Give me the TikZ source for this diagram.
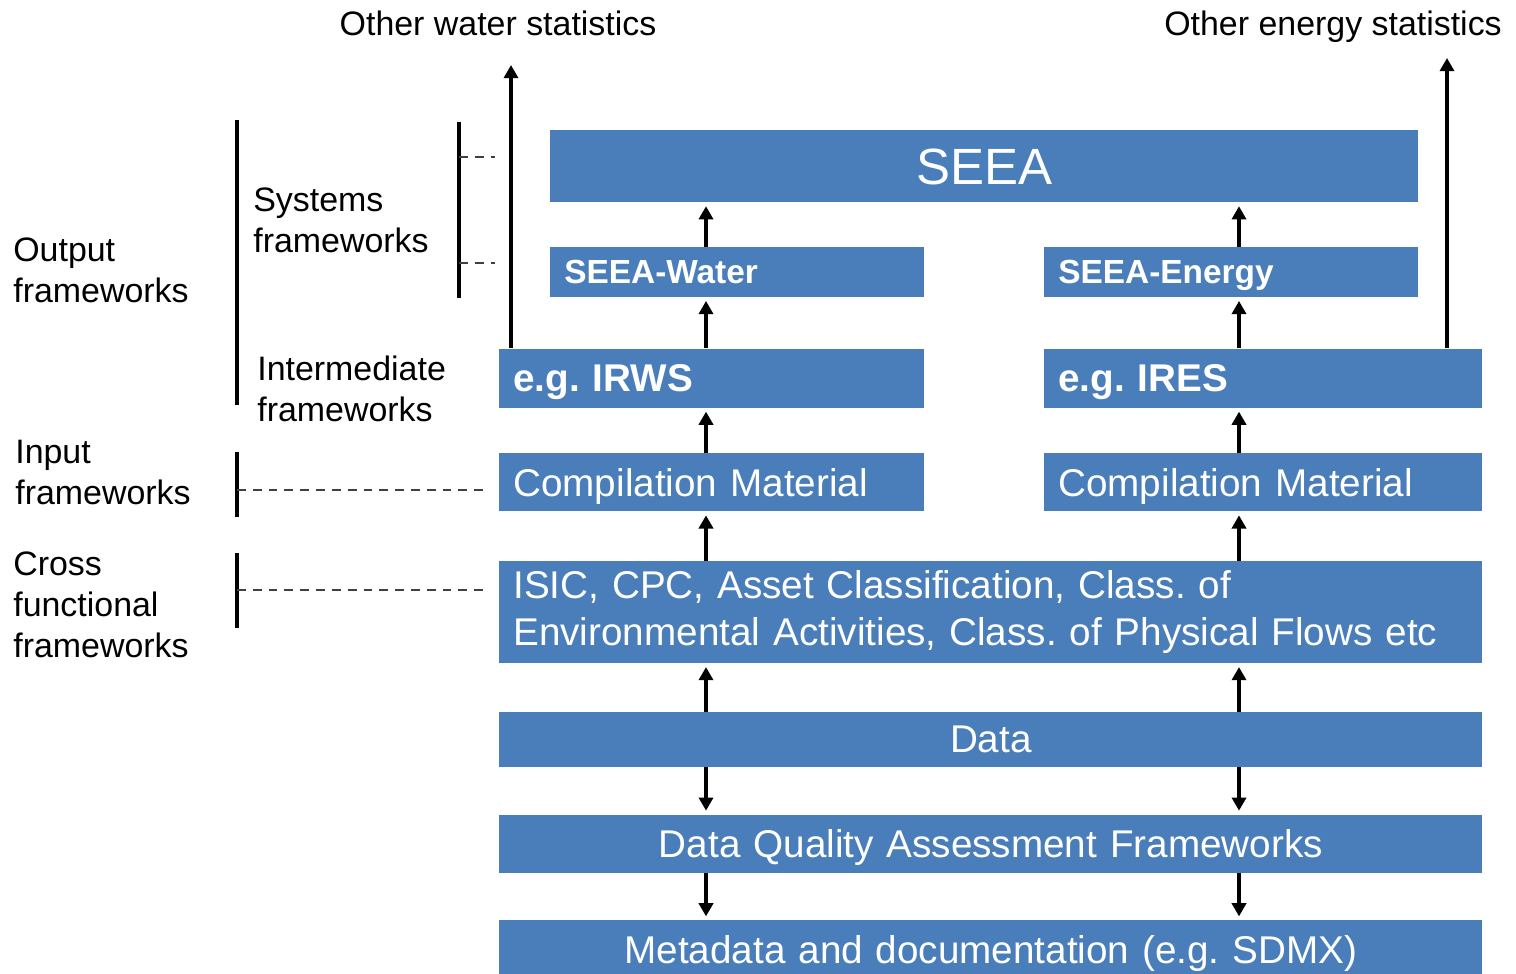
\documentclass[tikz,border=0pt]{standalone}
\usepackage{fontspec}
\setmainfont{Liberation Sans}
\usepackage{xcolor}
\usetikzlibrary{positioning, arrows.meta, calc}
\definecolor{seeablue}{HTML}{4A7EBB}
\frenchspacing

\begin{document}
\begin{tikzpicture}[
  blk/.style={rectangle, fill=seeablue, text=white, inner xsep=0.28cm, inner ysep=0pt, text depth=0pt, align=left, font=\fontsize{22}{27}\selectfont},
  lab/.style={anchor=west, inner sep=0pt, align=left, font=\fontsize{19.3}{23.2}\selectfont},
  bar/.style={line width=2.2pt},
  tick/.style={dash pattern=on 5pt off 4pt, line width=1.6pt, black!75},
  up/.style={->, line width=2pt, shorten >=2pt},
  >={Triangle[length=7.5pt, width=8pt]}, node distance=0.95cm
]
\useasboundingbox (0,0) rectangle (30.32,-19.46);

% blue boxes
\node[blk, align=center, text width=16.8cm, minimum height=1.44cm, font=\fontsize{29}{34}\selectfont, anchor=north west] (seea) at (11.0,-2.6) {SEEA};
\node[blk, text width=6.92cm, minimum height=1.0cm, font=\fontsize{19}{23}\selectfont\bfseries, below=0.88cm of seea.south west, anchor=north west] (water) {SEEA-Water};
\node[blk, text width=6.92cm, minimum height=1.0cm, font=\fontsize{19}{23}\selectfont\bfseries, below=0.88cm of seea.south east, anchor=north east] (energy) {SEEA-Energy};
\node[blk, text width=7.94cm, minimum height=1.18cm, font=\fontsize{22}{27}\selectfont\bfseries, below=1.02cm of water.south east, anchor=north east] (irws) {e.g. IRWS};
\node[blk, text width=8.2cm, minimum height=1.18cm, font=\fontsize{22}{27}\selectfont\bfseries, below=1.02cm of energy.south west, anchor=north west] (ires) {e.g. IRES};
\node[blk, text width=7.94cm, minimum height=1.16cm, below=0.9cm of irws] (compw) {Compilation Material};
\node[blk, text width=8.2cm, minimum height=1.16cm, below=0.9cm of ires] (compe) {Compilation Material};
\node[blk, text depth={}, text width=19.1cm, minimum height=2.04cm, below=0.98cm of compw.south west, anchor=north west] (isic) {ISIC, CPC, Asset Classification, Class. of\\Environmental Activities, Class. of Physical Flows etc};
\node[blk, align=center, text width=19.1cm, minimum height=1.1cm, below=0.96cm of isic] (data) {Data};
\node[blk, align=center, text width=19.1cm, minimum height=1.16cm, below=0.94cm of data] (dqaf) {Data Quality Assessment Frameworks};
\node[blk, align=center, text width=19.1cm, minimum height=1.16cm, below=0.94cm of dqaf] (meta) {Metadata and documentation (e.g. SDMX)};

% outside statistics
\node[lab, anchor=base] (wstat) at (9.96,-0.72) {Other water statistics};
\node[lab, anchor=base] (estat) at (26.66,-0.72) {Other energy statistics};
\coordinate (wtop) at (10.22,-1.3);
\coordinate (etop) at (28.94,-1.16);
\draw[up, shorten >=0pt] (irws.north -| wtop) -- (wtop);
\draw[up, shorten >=0pt] (ires.north -| etop) -- (etop);

% arrows between boxes
\coordinate (colw) at (14.12,0);
\coordinate (cole) at (24.78,0);
\foreach \c in {colw, cole} {
  \draw[up] (isic.north -| \c) -- (compw.south -| \c);
  \draw[up] (data.north -| \c) -- (isic.south -| \c);
  \draw[up] (data.south -| \c) -- (dqaf.north -| \c);
  \draw[up] (dqaf.south -| \c) -- (meta.north -| \c);
}
\draw[up] (compw.north -| colw) -- (irws.south -| colw);
\draw[up] (compe.north -| cole) -- (ires.south -| cole);
\draw[up] (irws.north -| colw) -- (water.south -| colw);
\draw[up] (ires.north -| cole) -- (energy.south -| cole);
\draw[up] (water.north -| colw) -- (seea.south -| colw);
\draw[up] (energy.north -| cole) -- (seea.south -| cole);

% framework labels
\node[lab] (outf) at (0.26,-5.4) {Output\\frameworks};
\node[lab] (sysf) at (5.06,-4.4) {Systems\\frameworks};
\node[lab] (intf) at (5.14,-7.78) {Intermediate\\frameworks};
\node[lab] (inpf) at (0.3,-9.45) {Input\\frameworks};
\node[lab] (crsf) at (0.26,-12.1) {Cross\\functional\\frameworks};

% brackets
\draw[bar] (4.74,-2.4) -- (4.74,-8.1);
\draw[bar] (9.18,-2.44) -- (9.18,-5.96);
\draw[tick] (9.18,-3.14) -- (9.9,-3.14);
\draw[tick] (9.18,-5.26) -- (9.9,-5.26);
\draw[bar] (4.74,-9.04) -- (4.74,-10.34);
\draw[tick] (4.74,-9.8) -- (9.74,-9.8);
\draw[bar] (4.74,-11.06) -- (4.74,-12.56);
\draw[tick] (4.74,-11.8) -- (9.74,-11.8);
\end{tikzpicture}
\end{document}
